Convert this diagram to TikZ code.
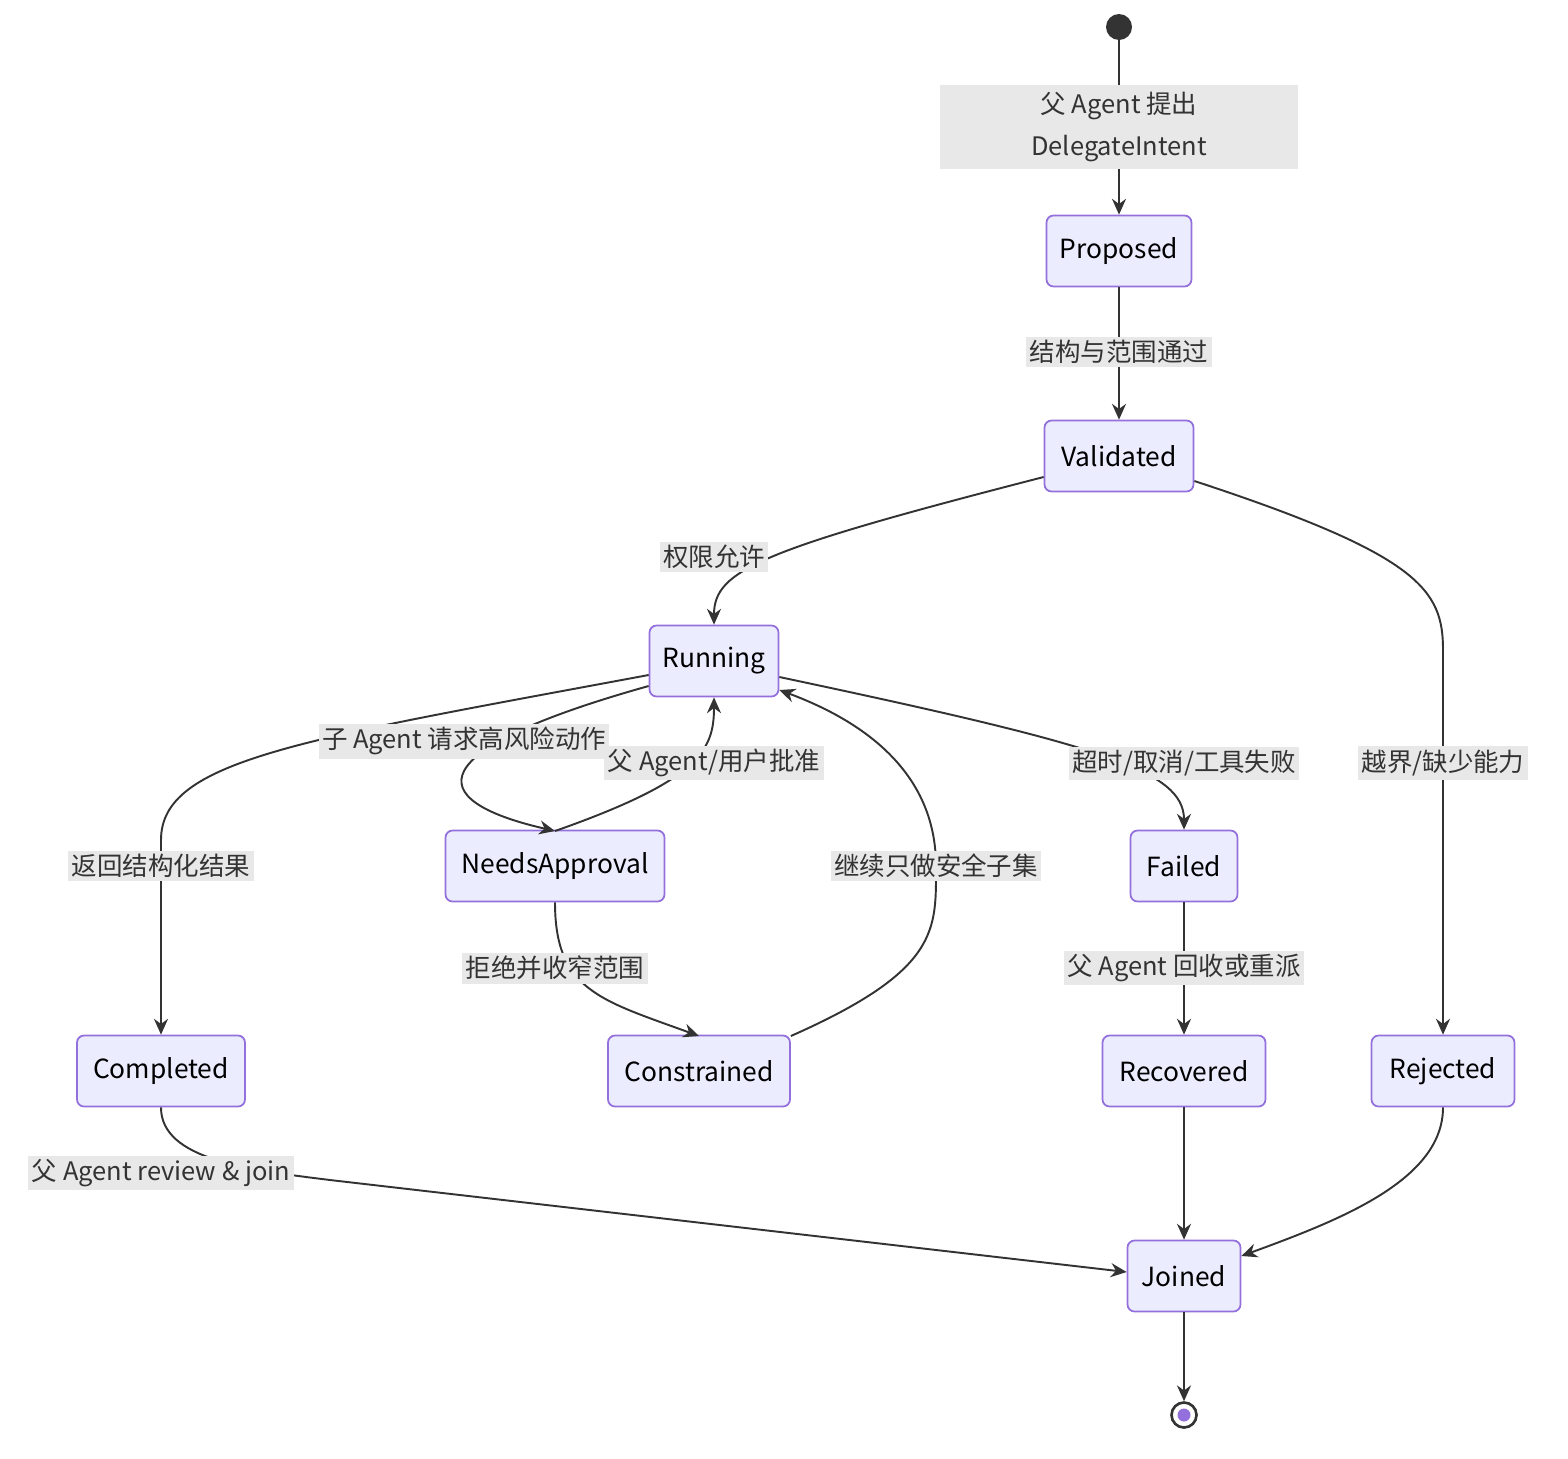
\documentclass[tikz,border=0pt]{standalone}
\usepackage{fontspec}
\setmainfont{Noto Sans CJK SC}
\usetikzlibrary{arrows.meta}
\definecolor{sfill}{HTML}{ECECFF}
\definecolor{sline}{HTML}{9370DB}
\definecolor{edge}{HTML}{333333}
\definecolor{lbl}{HTML}{E8E8E8}
\begin{document}
\begin{tikzpicture}[x=0.02cm,y=-0.02cm,
  st/.style={draw=sline,fill=sfill,line width=1pt,rounded corners=4pt,minimum height=1.42cm,inner xsep=0pt,font=\fontsize{15}{18}\selectfont},
  lb/.style={fill=lbl,inner sep=2pt,font=\fontsize{14.5}{24}\selectfont,text=edge,align=center},
  ar/.style={draw=edge,line width=1.1pt,-{Stealth[length=9pt,width=8pt]}}]
\useasboundingbox (0,0) rectangle (1568,1458);
\node[circle,fill=edge,minimum size=0.52cm,inner sep=0pt] (s) at (1119,27) {};
\node[st,minimum width=2.9cm] (pro) at (1119,251) {Proposed};
\node[st,minimum width=2.98cm] (val) at (1119,456) {Validated};
\node[st,minimum width=2.58cm] (run) at (714,661) {Running};
\node[st,minimum width=4.38cm] (na) at (555,866) {NeedsApproval};
\node[st,minimum width=2.14cm] (fail) at (1184,866) {Failed};
\node[st,minimum width=3.36cm] (comp) at (161,1071) {Completed};
\node[st,minimum width=3.64cm] (con) at (699,1071) {Constrained};
\node[st,minimum width=3.26cm] (rec) at (1184,1071) {Recovered};
\node[st,minimum width=2.86cm] (rej) at (1443,1071) {Rejected};
\node[st,minimum width=2.26cm] (join) at (1184,1276) {Joined};
\node[circle,draw=edge,line width=1.5pt,fill=white,minimum size=0.5cm,inner sep=0pt] (e) at (1184,1415) {};
\node[circle,fill=sline,minimum size=0.26cm,inner sep=0pt] (ei) at (e) {};

\draw[ar] (s) -- (pro);
\draw[ar] (pro) -- (val);
\draw[ar] (val.west|-1045,477) .. controls (760,550) and (714,570) .. (run.north);
\draw[ar] (val.east|-1194,481) .. controls (1420,555) and (1443,590) .. (1443,650) -- (rej.north);
\draw[ar] (run.west|-650,675) .. controls (300,740) and (161,760) .. (161,840) -- (comp.north);
\draw[ar] (run.west|-650,686) .. controls (420,750) and (420,800) .. (na.north|-497,831);
\draw[ar] (na.north|-610,831) .. controls (700,780) and (714,750) .. (run.south);
\draw[ar] (run.east|-779,677) .. controls (1100,745) and (1184,770) .. (fail.north);
\draw[ar] (con.east|-785,1036) .. controls (940,970) and (936,930) .. (936,866) .. controls (936,770) and (860,720) .. (run.east|-779,690);
\draw[ar] (na.south) .. controls (555,990) and (600,1000) .. (con.north|-650,1036);
\draw[ar] (fail) -- (rec);
\draw[ar] (rec) -- (join);
\draw[ar] (join) -- (e);
\draw[ar] (comp.south) .. controls (161,1160) and (250,1170) .. (330,1180) -- (join.west|-1127,1272);
\draw[ar] (rej.south) .. controls (1443,1180) and (1340,1220) .. (join.east|-1240,1256);

\node[lb,minimum width=7.18cm,minimum height=1.7cm] (l1) at (1119,127) {父 Agent 提出\\DelegateIntent};
\node[lb] (l2) at (1119,352) {结构与范围通过};
\node[lb] (l3) at (714,557) {权限允许};
\node[lb] (l4) at (464,741) {子 Agent 请求高风险动作};
\node[lb] (l5) at (714,763) {父 Agent/用户批准};
\node[lb] (l6) at (161,866) {返回结构化结果};
\node[lb] (l7) at (936,866) {继续只做安全子集};
\node[lb] (l8) at (555,968) {拒绝并收窄范围};
\node[lb] (l9) at (1184,763) {超时/取消/工具失败};
\node[lb] (l10) at (1443,763) {越界/缺少能力};
\node[lb] (l11) at (1184,968) {父 Agent 回收或重派};
\node[lb] (l12) at (161,1173) {父 Agent review \& join};
\end{tikzpicture}
\end{document}
